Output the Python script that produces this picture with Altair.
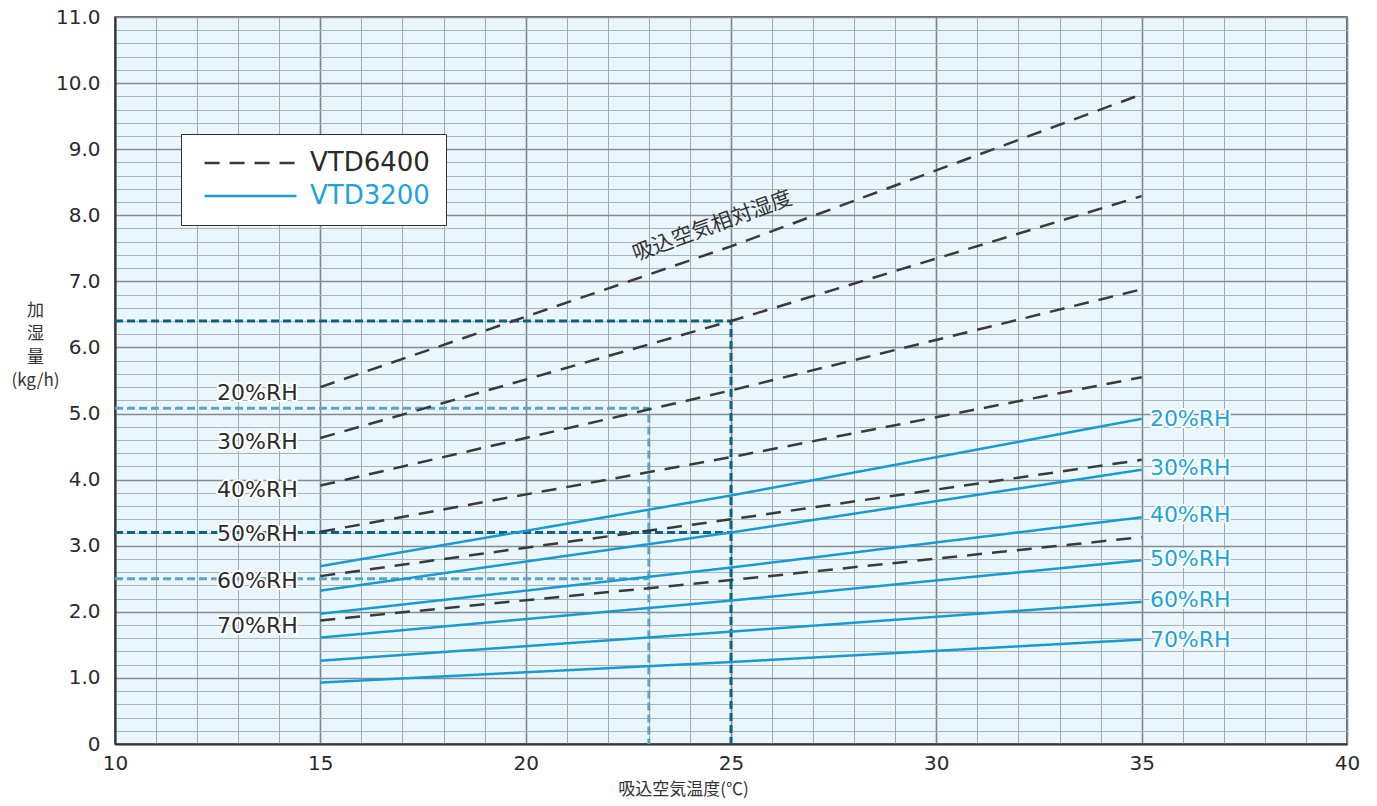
import altair as alt
import pandas as pd

# ---------------- data ----------------
temps = [15, 25, 35]
rh_levels = ["20%RH", "30%RH", "40%RH", "50%RH", "60%RH", "70%RH"]

vtd6400 = {
    "20%RH": [5.40, 7.53, 9.83],
    "30%RH": [4.63, 6.40, 8.29],
    "40%RH": [3.91, 5.35, 6.88],
    "50%RH": [3.21, 4.34, 5.55],
    "60%RH": [2.54, 3.40, 4.30],
    "70%RH": [1.87, 2.48, 3.13],
}
vtd3200 = {
    "20%RH": [2.69, 3.76, 4.92],
    "30%RH": [2.32, 3.20, 4.15],
    "40%RH": [1.97, 2.67, 3.43],
    "50%RH": [1.61, 2.17, 2.78],
    "60%RH": [1.26, 1.70, 2.15],
    "70%RH": [0.93, 1.24, 1.58],
}
models = ["VTD6400", "VTD3200"]
model_colors = ["#3a3a3a", "#1a9ad2"]

# reading guides (dotted)
guide_temp = [25, 23]
guide_upper = [6.4, 5.08]
guide_lower = [3.2, 2.5]
guide_colors = ["#0b6283", "#5ba5c3"]

# label anchors
left_label_x = 14.45
left_label_y = [5.31, 4.57, 3.84, 3.18, 2.47, 1.79]
right_label_x = 35.2
right_label_y = [4.91, 4.18, 3.46, 2.80, 2.18, 1.58]

curve_label = "吸込空気相対湿度"
curve_label_x = 24.55
curve_label_y = 7.83

x_min, x_max = 10, 40
y_min, y_max = 0, 11
x_grid = list(range(10, 41))
y_grid = [round(i * 0.2, 1) for i in range(56)]

# ---------------- tables ----------------
rows = []
for m, d in zip(models, [vtd6400, vtd3200]):
    for rh in rh_levels:
        for t, v in zip(temps, d[rh]):
            rows.append({"model": m, "rh": rh, "x": t, "y": v})
lines_df = pd.DataFrame(rows)

grows = []
for i, (t, u, l, c) in enumerate(zip(guide_temp, guide_upper, guide_lower, guide_colors)):
    grows += [
        {"g": f"u{i}", "s": 0, "x": x_min, "y": u, "c": c},
        {"g": f"u{i}", "s": 1, "x": t, "y": u, "c": c},
        {"g": f"u{i}", "s": 2, "x": t, "y": y_min, "c": c},
        {"g": f"l{i}", "s": 0, "x": x_min, "y": l, "c": c},
        {"g": f"l{i}", "s": 1, "x": t, "y": l, "c": c},
    ]
guides_df = pd.DataFrame(grows)

left_df = pd.DataFrame({"x": [left_label_x] * 6, "y": left_label_y, "t": rh_levels})
right_df = pd.DataFrame({"x": [right_label_x] * 6, "y": right_label_y, "t": rh_levels})
curve_df = pd.DataFrame({"x": [curve_label_x], "y": [curve_label_y], "t": [curve_label]})

# ---------------- encodings ----------------
is_major_x = "datum.value % 5 === 0"
is_major_y = "abs(datum.value - round(datum.value)) < 0.01"

X = alt.X(
    "x:Q",
    scale=alt.Scale(domain=[x_min, x_max], nice=False, zero=False),
    axis=alt.Axis(
        values=x_grid,
        labelExpr=f"{is_major_x} ? datum.label : ''",
        ticks=False,
        labelPadding=9,
        labelFlush=False,
        labelOverlap=False,
        labelFontSize=20,
        labelFont="DejaVu Sans",
        labelColor="#2a2a2a",
        gridColor=alt.condition(is_major_x, alt.value("#7f858a"), alt.value("#a2aab0")),
        gridWidth=alt.condition(is_major_x, alt.value(1.6), alt.value(1.0)),
        domainColor="#333333",
        domainWidth=2,
        title="吸込空気温度(℃)",
        titleFont="Noto Sans CJK JP",
        titleFontSize=17,
        titleFontWeight="normal",
        titleColor="#333333",
        titleX=568,
        titleY=45,
        titleAlign="center",
        titleBaseline="middle",
    ),
)
Y = alt.Y(
    "y:Q",
    scale=alt.Scale(domain=[y_min, y_max], nice=False, zero=True),
    axis=alt.Axis(
        values=y_grid,
        labelExpr=f"{is_major_y} ? (datum.value == 0 ? '0' : format(datum.value, '.1f')) : ''",
        ticks=False,
        labelPadding=15,
        labelFlush=False,
        labelOverlap=False,
        labelFontSize=20,
        labelFont="DejaVu Sans",
        labelColor="#2a2a2a",
        gridColor=alt.condition(is_major_y, alt.value("#868c91"), alt.value("#aab3b9")),
        gridWidth=alt.condition(is_major_y, alt.value(1.6), alt.value(1.0)),
        domainColor="#333333",
        domainWidth=2,
        title=["加", "湿", "量", "(kg/h)"],
        titleFont="Noto Sans CJK JP",
        titleFontSize=17,
        titleFontWeight="normal",
        titleColor="#333333",
        titleAngle=0,
        titleX=-80,
        titleY=285,
        titleAlign="center",
        titleBaseline="top",
        titleLineHeight=23.5,
    ),
)

legend = alt.Legend(
    title=None,
    orient="none",
    legendX=66,
    legendY=117,
    fillColor="white",
    strokeColor="#333333",
    padding=16,
    symbolType="M-8,0H8",
    symbolSize=132,
    symbolStrokeWidth=2.5,
    symbolOffset=40.5,
    labelOffset=46.5,
    labelFont="DejaVu Sans",
    labelFontSize=26,
    labelColor={"expr": "datum.label == 'VTD3200' ? '#1aa3dc' : '#2a2a2a'"},
    rowPadding=7,
)

guides = alt.Chart(guides_df).mark_line(strokeWidth=3, strokeDash=[8, 4], strokeCap="butt").encode(
    x=X, y=Y, detail="g:N", order="s:Q", color=alt.Color("c:N", scale=None)
)

curves = alt.Chart(lines_df).mark_line(strokeWidth=2.5, strokeCap="butt").encode(
    x=X,
    y=Y,
    detail="rh:N",
    color=alt.Color("model:N", scale=alt.Scale(domain=models, range=model_colors), legend=legend, sort=models),
    strokeDash=alt.StrokeDash(
        "model:N", scale=alt.Scale(domain=models, range=[[15, 10], [1, 0]]), legend=legend, sort=models
    ),
)

def halo_text(df, align, color):
    base = alt.Chart(df).encode(x=X, y=Y, text="t:N")
    halo = base.mark_text(
        align=align, baseline="middle", font="DejaVu Sans", fontSize=22,
        stroke="white", strokeWidth=4, strokeJoin="round", fill="white",
    )
    fg = base.mark_text(align=align, baseline="middle", font="DejaVu Sans", fontSize=22, fill=color)
    return halo + fg

left_labels = halo_text(left_df, "right", "#2a2a2a")
right_labels = halo_text(right_df, "left", "#1aa3dc")

curve_text = alt.Chart(curve_df).mark_text(
    angle=340, align="center", baseline="middle", font="Noto Sans CJK JP", fontSize=21, fill="#333333"
).encode(x=X, y=Y, text="t:N")

chart = (
    alt.layer(guides, curves, left_labels, right_labels, curve_text)
    .properties(
        width=1232,
        height=727,
        autosize=alt.AutoSizeParams(type="none"),
        padding={"left": 107, "top": 9, "right": 22, "bottom": 54},
        title=alt.TitleParams(
            "（強運転時、50/60Hz）",
            anchor="end",
            orient="top",
            offset=1,
            dx=15,
            fontSize=18,
            font="Noto Sans CJK JP",
            fontWeight="normal",
            color="#333333",
            baseline="bottom",
        ),
    )
    .configure_view(fill="#e9f6fc", stroke="#333333", strokeWidth=1.5)
)

chart.save("out.html", embed_options={"renderer": "svg", "actions": False})
